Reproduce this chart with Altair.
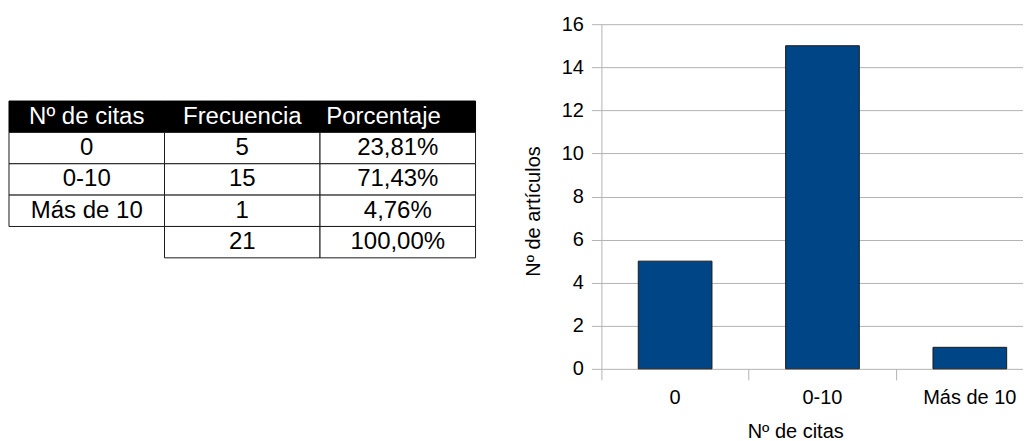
import altair as alt
import pandas as pd

# ---- data ----
header = ["Nº de citas", "Frecuencia", "Porcentaje"]
categories = ["0", "0-10", "Más de 10"]
frequencies = [5, 15, 1]
percentages = ["23,81%", "71,43%", "4,76%"]
total_freq = 21
total_pct = "100,00%"

FONT = "Liberation Sans"
GRAY = "#b3b3b3"

# ---- table cells ----
cells = []
for c, h in enumerate(header):
    cells.append({"row": 0, "col": c, "text": h, "kind": "header"})
for i, (cat, f, p) in enumerate(zip(categories, frequencies, percentages)):
    for c, t in enumerate([cat, str(f), p]):
        cells.append({"row": i + 1, "col": c, "text": t, "kind": "body"})
r_tot = len(categories) + 1
cells.append({"row": r_tot, "col": 0, "text": "", "kind": "blank"})
cells.append({"row": r_tot, "col": 1, "text": str(total_freq), "kind": "body"})
cells.append({"row": r_tot, "col": 2, "text": total_pct, "kind": "body"})
cells_df = pd.DataFrame(cells)

xs = alt.Scale(domain=[0, 3])
ys = alt.Scale(domain=[-2.45, 8.54], reverse=True)

base = alt.Chart(cells_df).transform_calculate(
    x0="datum.col", x1="datum.col + 1",
    y0="datum.row", y1="datum.row + 1",
    xm="datum.col + 0.5", xl="datum.col + 0.04", ym="datum.row + 0.5",
)

rect_enc = dict(
    x=alt.X("x0:Q", scale=xs, axis=None),
    x2="x1:Q",
    y=alt.Y("y0:Q", scale=ys, axis=None),
    y2="y1:Q",
)
text_enc = dict(
    x=alt.X("xm:Q", scale=xs, axis=None),
    y=alt.Y("ym:Q", scale=ys, axis=None),
    text="text:N",
)
text_enc_left = dict(
    x=alt.X("xl:Q", scale=xs, axis=None),
    y=alt.Y("ym:Q", scale=ys, axis=None),
    text="text:N",
)

TFS = 24
header_rect = base.transform_filter("datum.kind == 'header'").mark_rect(
    fill="black", stroke="black", strokeWidth=1
).encode(**rect_enc)
body_rect = base.transform_filter("datum.kind == 'body'").mark_rect(
    fill="white", stroke="#1a1a1a", strokeWidth=1
).encode(**rect_enc)
header_text = base.transform_filter("datum.kind == 'header' && datum.col < 2").mark_text(
    font=FONT, fontSize=TFS, color="white", baseline="middle", align="center"
).encode(**text_enc)
header_text_last = base.transform_filter("datum.kind == 'header' && datum.col == 2").mark_text(
    font=FONT, fontSize=TFS, color="white", baseline="middle", align="left"
).encode(**text_enc_left)
body_text = base.transform_filter("datum.kind == 'body'").mark_text(
    font=FONT, fontSize=TFS, color="black", baseline="middle", align="center"
).encode(**text_enc)

table = alt.layer(
    header_rect, body_rect, header_text, header_text_last, body_text
).properties(width=467, height=345)

# ---- bar chart ----
bars_df = pd.DataFrame({"cat": categories, "n": frequencies})
bars = alt.Chart(bars_df).mark_bar(
    fill="#004586", stroke="#1a1a1a", strokeWidth=1
).encode(
    x=alt.X(
        "cat:N", sort=categories,
        scale=alt.Scale(paddingInner=0.5, paddingOuter=0.1805, align=0.693),
        axis=alt.Axis(
            title="Nº de citas", labelAngle=0, bandPosition=-0.5, domain=False,
            tickSize=11, tickColor=GRAY, labelPadding=8, titleX=194,
            titlePadding=14,
        ),
    ),
    y=alt.Y(
        "n:Q", scale=alt.Scale(domain=[0, 16], nice=False),
        axis=alt.Axis(
            title="Nº de artículos", tickCount=8, tickSize=10, tickColor=GRAY,
            domainColor=GRAY, gridColor=GRAY, labelPadding=8,
            titleX=-58, titleY=187,
        ),
    ),
).properties(width=422, height=345)

chart = alt.hconcat(table, bars, spacing=126, bounds="flush").properties(
    padding={"left": 0, "top": 6, "right": 0, "bottom": 0}
).configure_view(stroke=None).configure_axis(
    labelFont=FONT, titleFont=FONT, labelFontSize=20, titleFontSize=20,
    labelColor="black", titleColor="black", titleFontWeight="normal",
    grid=True,
).configure_axisX(grid=False)

chart.save("out.html", embed_options={"renderer": "svg", "actions": False})
